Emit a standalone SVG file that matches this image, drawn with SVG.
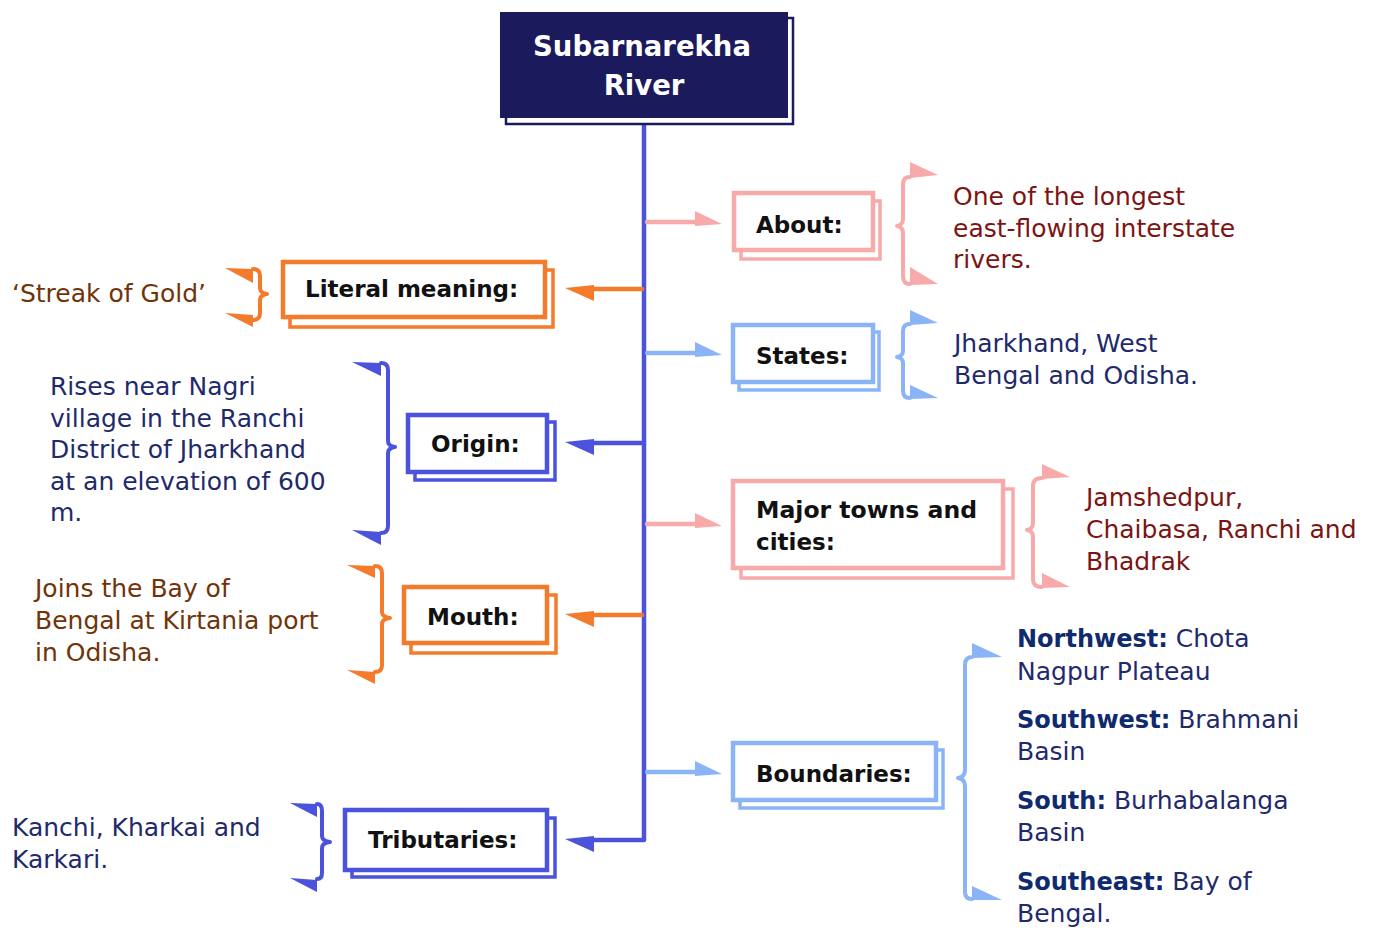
<svg xmlns="http://www.w3.org/2000/svg" width="1377" height="929" viewBox="0 0 1377 929">
<style>
.lbl{font-family:"DejaVu Sans","Liberation Sans",sans-serif;font-weight:bold;font-size:23px;fill:#111}
.txt{font-family:"DejaVu Sans","Liberation Sans",sans-serif;font-size:25px}
.b{font-weight:bold;font-size:24px}
.red{fill:#7c1414}
.navy{fill:#1f2a6c}
.navyb{fill:#0f2a6e}
.brown{fill:#703408}
.front{fill:#fff;stroke-width:4.5}
.back{fill:#fff;stroke-width:3.5}
.or{stroke:#f47a2c}
.bl{stroke:#4b52dc}
.pk{stroke:#f8a9a9}
.lb{stroke:#8bb4f7}
.line{fill:none;stroke-width:4.5;stroke-linecap:round;stroke-linejoin:round}
.brace{fill:none;stroke-width:4;stroke-linecap:round;stroke-linejoin:round}
.fo{fill:#f47a2c}
.fb{fill:#4b52dc}
.fp{fill:#f8a9a9}
.fl{fill:#8bb4f7}
</style>

<g id="connectors">
  <path class="line bl" d="M644 122 V840 H592" stroke-width="5"/>
  <path class="line or" d="M642 289 H592"/>
  <path class="line bl" d="M642 443 H592"/>
  <path class="line or" d="M642 615 H592"/>
  <path class="line pk" d="M647 222 H697"/>
  <path class="line lb" d="M647 353 H697"/>
  <path class="line pk" d="M647 524 H697"/>
  <path class="line lb" d="M647 772 H697"/>
  <polygon class="fo" points="565,288 594,285 594,301"/>
  <polygon class="fb" points="565,442 594,439 594,455"/>
  <polygon class="fo" points="565,614 594,611 594,627"/>
  <polygon class="fb" points="565,839 594,836 594,852"/>
  <polygon class="fp" points="695,211 695,226 722,224"/>
  <polygon class="fl" points="695,342 695,357 722,355"/>
  <polygon class="fp" points="695,513 695,528 722,526"/>
  <polygon class="fl" points="695,761 695,776 722,774"/>
</g>

<g id="title">
  <rect x="506" y="18" width="287" height="106" fill="#fff" stroke="#1b1a5c" stroke-width="2.5"/>
  <rect x="500" y="12" width="288" height="106" fill="#1b1a5c"/>
  <text x="642" y="56" text-anchor="middle" font-family="DejaVu Sans, sans-serif" font-weight="bold" font-size="27.5" fill="#fff">Subarnarekha</text>
  <text x="644" y="95" text-anchor="middle" font-family="DejaVu Sans, sans-serif" font-weight="bold" font-size="27.5" fill="#fff">River</text>
</g>

<g id="about">
  <rect class="back pk" x="741" y="201" width="139" height="58"/>
  <rect class="front pk" x="734" y="193" width="139" height="57"/>
  <text class="lbl" x="756" y="233">About:</text>
  <path class="brace pk" d="M910 177 Q903 177 903 184 L903 219 Q903 225 897 226 Q903 227 903 233 L903 276 Q903 284 910 284"/>
  <polygon class="fp" points="910,162 938,175 910,178"/>
  <polygon class="fp" points="910,267 938,284 910,285"/>
  <text class="txt red" x="953" y="205">One of the longest</text>
  <text class="txt red" x="953" y="237">east-flowing interstate</text>
  <text class="txt red" x="953" y="268">rivers.</text>
</g>

<g id="states">
  <rect class="back lb" x="739" y="332" width="140" height="58"/>
  <rect class="front lb" x="733" y="325" width="140" height="57"/>
  <text class="lbl" x="756" y="364">States:</text>
  <path class="brace lb" d="M910 324 Q903 324 903 331 L903 351 Q903 356 897 357 Q903 358 903 363 L903 391 Q903 398 910 398"/>
  <polygon class="fl" points="910,310 938,323 910,325"/>
  <polygon class="fl" points="910,385 938,398 910,399"/>
  <text class="txt navy" x="954" y="352">Jharkhand, West</text>
  <text class="txt navy" x="954" y="384">Bengal and Odisha.</text>
</g>

<g id="major">
  <rect class="back pk" x="741" y="489" width="272" height="89"/>
  <rect class="front pk" x="733" y="481" width="270" height="87"/>
  <text class="lbl" x="756" y="518" textLength="221" lengthAdjust="spacingAndGlyphs">Major towns and</text>
  <text class="lbl" x="756" y="550">cities:</text>
  <path class="brace pk" d="M1042 478 Q1033 478 1033 486 L1033 523 Q1033 529 1027 530 Q1033 531 1033 537 L1033 579 Q1033 587 1042 587"/>
  <polygon class="fp" points="1042,464 1070,477 1042,479"/>
  <polygon class="fp" points="1042,573 1070,587 1042,588"/>
  <text class="txt red" x="1086" y="506">Jamshedpur,</text>
  <text class="txt red" x="1086" y="538">Chaibasa, Ranchi and</text>
  <text class="txt red" x="1086" y="570">Bhadrak</text>
</g>

<g id="boundaries">
  <rect class="back lb" x="740" y="750" width="203" height="58"/>
  <rect class="front lb" x="733" y="743" width="203" height="57"/>
  <text class="lbl" x="756" y="782">Boundaries:</text>
  <path class="brace lb" d="M972 657 Q965 657 965 665 L965 770 Q965 777 958 778 Q965 779 965 786 L965 892 Q965 899 972 899"/>
  <polygon class="fl" points="972,643 1002,657 972,658"/>
  <polygon class="fl" points="972,886 1002,900 972,900"/>
  <text class="txt navy" x="1017" y="647"><tspan class="b navyb">Northwest:</tspan> Chota</text>
  <text class="txt navy" x="1017" y="680">Nagpur Plateau</text>
  <text class="txt navy" x="1017" y="728"><tspan class="b navyb">Southwest:</tspan> Brahmani</text>
  <text class="txt navy" x="1017" y="760">Basin</text>
  <text class="txt navy" x="1017" y="809"><tspan class="b navyb">South:</tspan> Burhabalanga</text>
  <text class="txt navy" x="1017" y="841">Basin</text>
  <text class="txt navy" x="1017" y="890"><tspan class="b navyb">Southeast:</tspan> Bay of</text>
  <text class="txt navy" x="1017" y="922">Bengal.</text>
</g>

<g id="literal">
  <rect class="back or" x="290" y="270" width="263" height="57"/>
  <rect class="front or" x="283" y="262" width="262" height="55"/>
  <text class="lbl" x="305" y="297">Literal meaning:</text>
  <path class="brace or" d="M253 269 Q260 269 260 276 L260 288 Q260 293 267 294 Q260 295 260 300 L260 313 Q260 320 253 320"/>
  <polygon class="fo" points="225,268 253,269 253,283"/>
  <polygon class="fo" points="225,313 253,315 253,327"/>
  <text class="txt brown" x="12" y="302">‘Streak of Gold’</text>
</g>

<g id="origin">
  <rect class="back bl" x="415" y="422" width="140" height="58"/>
  <rect class="front bl" x="408" y="415" width="139" height="57"/>
  <text class="lbl" x="431" y="452">Origin:</text>
  <path class="brace bl" d="M381 363 Q388 363 388 370 L388 441 Q388 446 395 447 Q388 448 388 453 L388 526 Q388 533 381 533"/>
  <polygon class="fb" points="352,362 381,363 381,376"/>
  <polygon class="fb" points="352,530 381,532 381,545"/>
  <text class="txt navy" x="50" y="395">Rises near Nagri</text>
  <text class="txt navy" x="50" y="427">village in the Ranchi</text>
  <text class="txt navy" x="50" y="458">District of Jharkhand</text>
  <text class="txt navy" x="50" y="490">at an elevation of 600</text>
  <text class="txt navy" x="50" y="521">m.</text>
</g>

<g id="mouth">
  <rect class="back or" x="411" y="595" width="145" height="58"/>
  <rect class="front or" x="404" y="587" width="143" height="56"/>
  <text class="lbl" x="427" y="625">Mouth:</text>
  <path class="brace or" d="M375 566 Q382 566 382 573 L382 612 Q382 617 390 618 Q382 619 382 624 L382 665 Q382 672 375 672"/>
  <polygon class="fo" points="347,565 375,566 375,578"/>
  <polygon class="fo" points="347,670 375,672 375,684"/>
  <text class="txt brown" x="35" y="597">Joins the Bay of</text>
  <text class="txt brown" x="35" y="629">Bengal at Kirtania port</text>
  <text class="txt brown" x="35" y="661">in Odisha.</text>
</g>

<g id="tributaries">
  <rect class="back bl" x="352" y="818" width="203" height="59"/>
  <rect class="front bl" x="345" y="810" width="202" height="60"/>
  <text class="lbl" x="368" y="848">Tributaries:</text>
  <path class="brace bl" d="M317 804 Q322 804 322 811 L322 836 Q322 841 330 842 Q322 843 322 848 L322 873 Q322 879 317 879"/>
  <polygon class="fb" points="290,803 317,804 317,817"/>
  <polygon class="fb" points="290,878 317,880 317,892"/>
  <text class="txt navy" x="12" y="836">Kanchi, Kharkai and</text>
  <text class="txt navy" x="12" y="868">Karkari.</text>
</g>
</svg>
